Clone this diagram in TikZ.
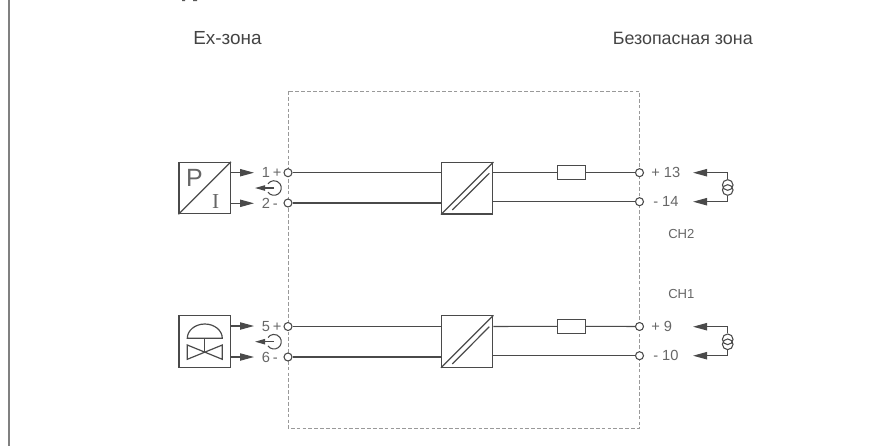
\documentclass[tikz,border=0pt]{standalone}
\usepackage{fontspec}
\setmainfont{Liberation Sans}
\usetikzlibrary{arrows.meta}
\definecolor{ln}{HTML}{4A4A4A}
\definecolor{tx}{HTML}{444444}
\definecolor{nm}{HTML}{666666}
\tikzset{
  wire/.style={draw=ln,line width=0.8pt},
  edge/.style={draw=ln,line width=0.9pt},
  boxs/.style={draw=ln,line width=0.9pt,fill=white,minimum width=38.5pt,minimum height=38.5pt,inner sep=0pt},
  fuse/.style={draw=ln,line width=0.8pt,fill=white,minimum width=21pt,minimum height=10.5pt,inner sep=0pt},
  term/.style={circle,draw=ln,line width=0.8pt,fill=white,minimum size=6pt,inner sep=0pt},
  sig/.style={draw=ln,line width=0.8pt,-{Stealth[length=10.5pt,width=5.5pt,inset=0pt]}},
  loopa/.style={draw=ln,line width=0.8pt,-{Stealth[length=7.5pt,width=4pt,inset=0pt]}},
  lab/.style={text=tx,font=\fontsize{13.4pt}{15pt}\selectfont,inner sep=0pt},
  exlab/.style={text=tx,font=\fontsize{14.2pt}{15pt}\selectfont,inner sep=0pt},
  num/.style={text=nm,font=\fontsize{11pt}{13pt}\selectfont,inner sep=0pt,anchor=west},
  chl/.style={text=nm,font=\fontsize{9.8pt}{12pt}\selectfont,inner sep=0pt,anchor=west},
  zone/.style={draw=black!40,line width=0.6pt,dash pattern=on 2.8pt off 1.6pt},
  src/.style={draw=ln,line width=0.8pt,circle,minimum size=8pt,inner sep=0pt}
}
\newcommand{\lsp}{\hspace{-0.8pt}}
\begin{document}
\begin{tikzpicture}[x=0.75pt,y=-0.75pt]
\useasboundingbox (0,0) rectangle (895,446);
\draw[draw=black!50,line width=1pt] (9,0) -- (9,446);
\fill[black!65] (182,0) rectangle (185,1.2) (193,0) rectangle (197,1.2);
% zone
\coordinate (zTL) at (288,91); \coordinate (zBR) at (639.5,428.5);
\draw[zone] (zTL) rectangle (zBR);
\node[exlab,anchor=west] (exz) at (193,38.5) {Ex-зона};
\node[lab,anchor=east] (safez) at (753,38.5) {Безопасная зона};
% upper channel
\node[boxs] (pi) at (204.7,188) {};
\draw[edge] (pi.south west) -- (pi.north east);
\node[text=nm,font=\fontsize{18.7pt}{19pt}\selectfont,inner sep=0pt] (pl) at (194.5,178) {P};
\node[text=nm,font=\fontsize{16pt}{16pt}\fontspec{Liberation Serif}\selectfont,inner sep=0pt] (il) at (215.7,202) {I};
\node[term] (t1) at (288,172.7) {};
\node[term] (t2) at (288,203) {};
\node[term] (t13) at (639.5,172.7) {};
\node[term] (t14) at (639.5,201.7) {};
\node[boxs] (c1) at (467.2,188.3) {};
\node[fuse] (f1) at (571.3,172.7) {};
\draw[wire] (t1) -- (c1.west |- t1);
\draw[wire] (t2) -- (c1.west |- t2);
\draw[wire] (c1.east |- t1) -- (f1);
\draw[wire] (f1) -- (t13);
\draw[wire] (c1.east |- t14) -- (t14);
\draw[edge] (c1.south west) -- (c1.north east);
\draw[edge] (452.3,210) -- (489.3,173.3);
\coordinate (a1) at (254,172.7); \coordinate (a2) at (254,203.3);
\draw[sig] (pi.east |- a1) -- (a1);
\draw[sig] (pi.east |- a2) -- (a2);
\node[num] (n1) at (261.5,172.7) {1\lsp{} +};
\node[num] (n2) at (261.5,203.3) {2\lsp{} -};
\coordinate (l1) at (274,188); \coordinate (l1t) at (255,188);
\draw[wire] (l1) ++(145:7.3) arc[start angle=145,end angle=-145,radius=7.3];
\draw[loopa] (l1) -- (l1t);
\node[num] (n13) at (651,172.7) {+ 13};
\node[num] (n14) at (653,201.7) {- 14};
\node[src] (s1a) at (727.7,185) {};
\node[src] (s1b) at (727.7,190) {};
\coordinate (b1) at (693,172.7); \coordinate (b2) at (693,201.7);
\draw[sig] (s1a.north) |- (b1);
\draw[sig] (s1b.south) |- (b2);
\node[chl] (ch2) at (668,234) {CH2};
\node[chl] (ch1) at (668,294) {CH1};
% lower channel
\node[boxs] (vb) at (204.7,341.5) {};
\draw[edge] (187.3,338.3) arc[start angle=180,end angle=0,x radius=17.5,y radius=-14.3] -- cycle;
\coordinate (vc) at (204.7,352);
\draw[edge] (204.7,338.3) -- (vc);
\draw[edge] (187.3,345) -- (222.3,359.3) -- (222.3,345) -- (187.3,359.3) -- cycle;
\node[term] (t5) at (288,326.5) {};
\node[term] (t6) at (288,357) {};
\node[term] (t9) at (639.5,326.5) {};
\node[term] (t10) at (639.5,355.7) {};
\node[boxs] (c2) at (467.2,341.5) {};
\node[fuse] (f2) at (571.3,326.3) {};
\draw[wire] (t5) -- (c2.west |- t5);
\draw[wire] (t6) -- (c2.west |- t6);
\draw[wire] (c2.east |- t9) -- (f2);
\draw[wire] (f2) -- (t9);
\draw[wire] (c2.east |- t10) -- (t10);
\draw[edge] (c2.south west) -- (c2.north east);
\draw[edge] (452.3,364) -- (489.3,326.7);
\coordinate (a5) at (254,326); \coordinate (a6) at (254,357);
\draw[sig] (vb.east |- a5) -- (a5);
\draw[sig] (vb.east |- a6) -- (a6);
\node[num] (n5) at (261.5,326.5) {5\lsp{} +};
\node[num] (n6) at (261.5,357) {6\lsp{} -};
\coordinate (l2) at (274,341.7); \coordinate (l2t) at (255,341.7);
\draw[wire] (l2) ++(145:7.3) arc[start angle=145,end angle=-145,radius=7.3];
\draw[loopa] (l2) -- (l2t);
\node[num] (n9) at (651,326.7) {+ 9};
\node[num] (n10) at (653,355.7) {- 10};
\node[src] (s2a) at (727.7,339.3) {};
\node[src] (s2b) at (727.7,344.3) {};
\coordinate (b9) at (693,326.7); \coordinate (b10) at (693,355.7);
\draw[sig] (s2a.north) |- (b9);
\draw[sig] (s2b.south) |- (b10);
\end{tikzpicture}
\end{document}
